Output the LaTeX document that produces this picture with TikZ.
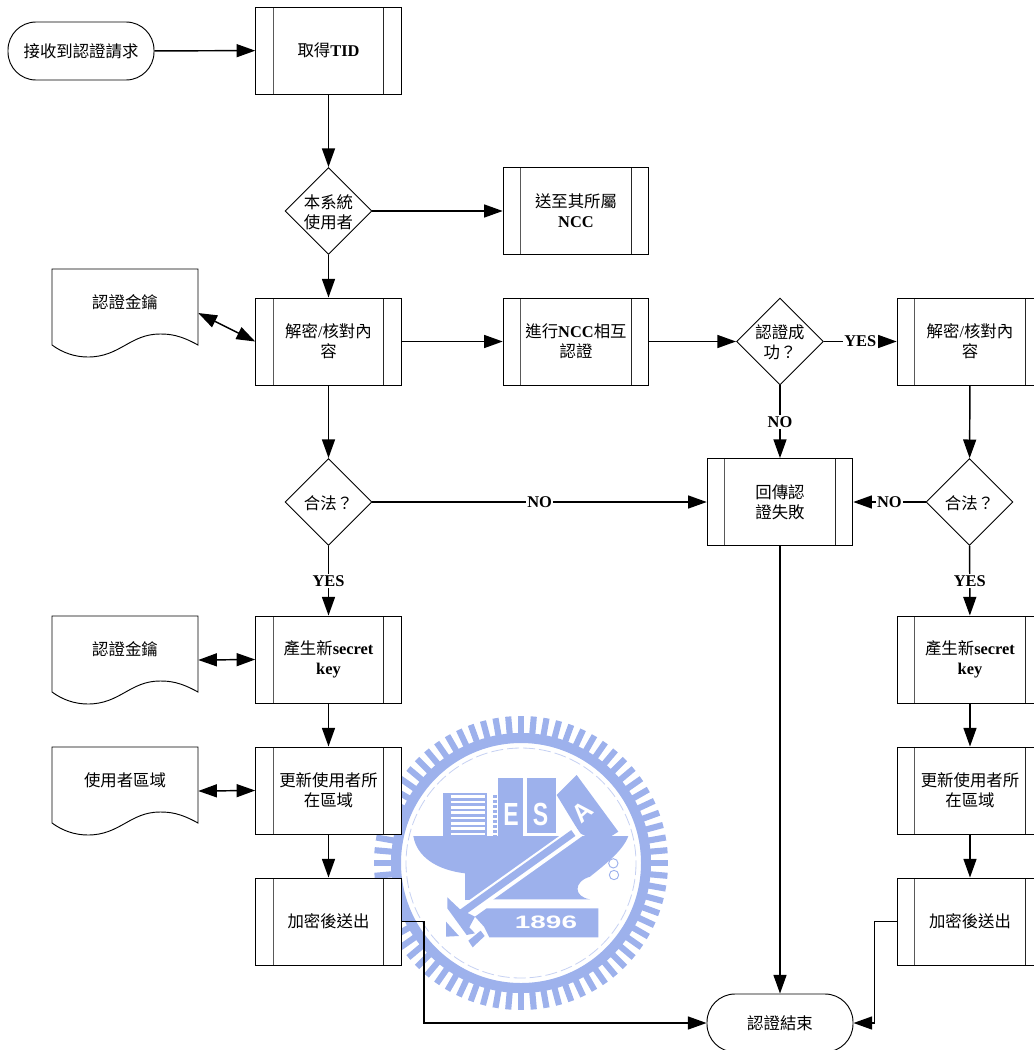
\documentclass[tikz,border=0pt]{standalone}
\usepackage{fontspec}
\setmainfont{Liberation Serif}
\setsansfont{Liberation Sans}
\newfontfamily\cjk{Noto Sans CJK TC}
\usetikzlibrary{shapes.geometric,arrows.meta}
\definecolor{wm}{HTML}{9DB1EC}
\definecolor{wmlight}{HTML}{C6D1F2}
\newcommand\dtext[1]{\makebox[0pt]{\raisebox{-.5\height}[0pt][0pt]{\begin{tabular}[b]{@{}c@{}}#1\end{tabular}}}}
\newcommand\zh[1]{{\cjk #1}}
\newcommand\la[1]{\textbf{#1}}
\tikzset{
  basefont/.style={font=\fontsize{12.3}{15}\selectfont},
  subbox/.style={rectangle,draw=black,line width=.7pt,fill=white,minimum width=109.2pt,minimum height=65.25pt,inner sep=0pt,align=center,basefont,
    path picture={
      \draw[line width=.8pt,black!65] ([xshift=13.1pt]path picture bounding box.north west) -- ([xshift=13.1pt]path picture bounding box.south west);
      \draw[line width=.7pt,black!85] ([xshift=-13.1pt]path picture bounding box.north east) -- ([xshift=-13.1pt]path picture bounding box.south east);
    }},
  dia/.style={diamond,draw=black,line width=.7pt,fill=white,minimum size=65.25pt,inner sep=0pt,basefont},
  term/.style={rectangle,rounded corners=21pt,draw=black,line width=.7pt,fill=white,minimum width=109.5pt,minimum height=43.5pt,inner sep=0pt,basefont},
  docbase/.style={rectangle,minimum width=109.5pt,minimum height=66pt,inner sep=0pt},
  docline/.style={draw=black,line width=.7pt,fill=white},
  doctext/.style={basefont,inner sep=0pt},
  conn/.style={draw=black,line width=1.1pt,-{Triangle[length=14pt,width=9.75pt]}},
  conn2/.style={draw=black,line width=1.1pt,{Triangle[length=14pt,width=9.75pt]}-{Triangle[length=14pt,width=9.75pt]}},
  lbl/.style={fill=white,inner sep=1pt,font=\fontsize{12.3}{15}\selectfont\bfseries},
}
\newcommand\docnode[5]{%
  \node[docbase] (#1) at (#2,#3) {};
  \begin{scope}[shift={(#2,#3)}]
    \path[docline] (-73,-44) -- (73,-44) -- (73,32)
      .. controls (55,22) and (45,21) .. (35,21)
      .. controls (5,21) and (-5,44) .. (-37,44)
      .. controls (-50,44) and (-62,40) .. (-73,32) -- cycle;
    \node[doctext] (#4) at (0,-11) {\zh{#5}};
  \end{scope}}
\begin{document}
\begin{tikzpicture}[x=.75pt,y=-.75pt]
\useasboundingbox (0,0) rectangle (1034,1050);
\clip (0,0) rectangle (1034,1050);

% watermark
\begin{scope}
  \foreach \a in {0,5,...,355}{
    \draw[wm,line width=4.6pt] (521,863) ++(\a:128) -- ++(\a:19);
  }
  \draw[wm,line width=7.5pt] (521,863) circle[radius=125];
  \draw[wmlight,line width=.6pt,dash pattern=on 9pt off 3pt] (521,863) circle[radius=115];
\end{scope}
\begin{scope}[shift={(360,700)},scale=.33333]
  % books
  \fill[wm] (250,280) rectangle (380,408);
  \foreach \y in {290,306,322,338,354,370,386,402}{
    \draw[white,line width=2pt] (272,\y) -- (376,\y);
  }
  \foreach \y in {285,300,...,405}{
    \fill[wm] (400,\y) rectangle (412,\y+9);
  }
  \fill[wm] (415,235) rectangle (490,408);
  \fill[wm] (500,235) rectangle (587,400);
  \fill[wm] (590,285) -- (650,225) -- (775,395) -- (720,430) -- (660,400) -- cycle;
  \node[white,font=\sffamily\bfseries\fontsize{24}{24}\selectfont,inner sep=0pt,xscale=.72] (wmE) at (453,343) {E};
  \node[white,font=\sffamily\bfseries\fontsize{24}{24}\selectfont,inner sep=0pt,xscale=.72] (wmS) at (542,343) {S};
  \node[white,font=\sffamily\bfseries\fontsize{19}{19}\selectfont,inner sep=0pt,rotate=42] (wmA) at (668,337) {A};
  % anvil
  \fill[wm] (160,408) -- (805,408) .. controls (790,450) and (740,490) .. (690,530)
     .. controls (640,545) and (640,590) .. (690,598) -- (415,598) -- (315,600) -- (315,520)
     .. controls (230,510) and (170,470) .. (160,408) -- cycle;
  \draw[white,line width=10pt] (655,392) -- (318,632);
  \draw[wm,line width=5.4pt] (640,399) -- (300,642);
  % hammer
  \fill[wm] (262,592) -- (300,628) -- (345,650) -- (328,682) -- (345,700) -- (320,705) -- (262,625) -- cycle;
  \fill[wm] (258,665) -- (297,708) -- (258,710) -- cycle;
  \fill[wm] (325,722) -- (362,692) -- (374,708) -- (338,742) -- cycle;
  % banner
  \fill[wm] (380,625) -- (715,625) -- (715,712) -- (388,712) -- (372,680) -- (345,650) -- cycle;
  \node[white,font=\sffamily\bfseries\fontsize{13.5}{13.5}\selectfont,inner sep=0pt,xscale=1.55] (wmY) at (558,666) {1896};
  \draw[wm,line width=.7pt] (760,490) circle[radius=14] (762,525) circle[radius=14];
\end{scope}

% nodes
\node[term] (start) at (81,51) {\zh{接收到認證請求}};
\node[subbox] (tid) at (328.5,50.5) {\zh{取得}\la{TID}};
\node[dia] (d1) at (328.5,211) {\dtext{\zh{本系統}\\\zh{使用者}}};
\node[subbox] (ncc) at (576,211) {\zh{送至其所屬}\\\la{NCC}};
\docnode{k1}{125}{313}{k1t}{認證金鑰}
\node[subbox] (dec1) at (328.5,341.5) {\zh{解密}/\zh{核對內}\\\zh{容}};
\node[subbox] (mut) at (576,341.5) {\zh{進行}\la{NCC}\zh{相互}\\\zh{認證}};
\node[dia] (d2) at (780,341.5) {\dtext{\zh{認證成}\\\zh{功？}}};
\node[subbox] (dec2) at (970,341.5) {\zh{解密}/\zh{核對內}\\\zh{容}};
\node[dia] (d3) at (328.5,502) {\dtext{\zh{合法？}}};
\node[subbox] (fail) at (780,502) {\zh{回傳認}\\\zh{證失敗}};
\node[dia] (d4) at (969.5,502) {\dtext{\zh{合法？}}};
\docnode{k2}{125}{660}{k2t}{認證金鑰}
\node[subbox] (gen1) at (328.5,659.5) {\zh{產生新}\la{secret}\\\la{key}};
\node[subbox] (gen2) at (970,659.5) {\zh{產生新}\la{secret}\\\la{key}};
\docnode{u1}{125}{791}{u1t}{使用者區域}
\node[subbox] (upd1) at (328.5,790.5) {\zh{更新使用者所}\\\zh{在區域}};
\node[subbox] (upd2) at (970,790.5) {\zh{更新使用者所}\\\zh{在區域}};
\node[subbox] (enc1) at (328.5,921.5) {\zh{加密後送出}};
\node[subbox] (enc2) at (970,921.5) {\zh{加密後送出}};
\node[term] (end) at (780,1023) {\zh{認證結束}};

% connectors
\draw[conn] (start) -- (tid);
\draw[conn] (tid) -- (d1);
\draw[conn] (d1) -- (ncc);
\draw[conn] (d1) -- (dec1);
\draw[conn2] (k1.east) -- (dec1.west);
\draw[conn] (dec1) -- (mut);
\draw[conn] (mut) -- (d2);
\draw[conn] (d2) -- node[lbl] (ly1) {YES} (dec2);
\draw[conn] (d2) -- node[lbl] (ln1) {NO} (fail);
\draw[conn] (dec1) -- (d3);
\draw[conn] (d3) -- node[lbl] (ln2) {NO} (fail);
\draw[conn] (dec2) -- (d4);
\draw[conn] (d4) -- node[lbl] (ln3) {NO} (fail);
\draw[conn] (d3) -- node[lbl] (ly2) {YES} (gen1);
\draw[conn] (d4) -- node[lbl] (ly3) {YES} (gen2);
\draw[conn2] (k2.east) -- (gen1.west);
\draw[conn2] (u1.east) -- (upd1.west);
\draw[conn] (gen1) -- (upd1);
\draw[conn] (upd1) -- (enc1);
\draw[conn] (gen2) -- (upd2);
\draw[conn] (upd2) -- (enc2);
\draw[conn] (fail) -- (end);
\draw[conn] (enc1.east) -- ++(22,0) |- (end.west);
\draw[conn] (enc2.west) -- ++(-22,0) |- (end.east);
\end{tikzpicture}
\end{document}
